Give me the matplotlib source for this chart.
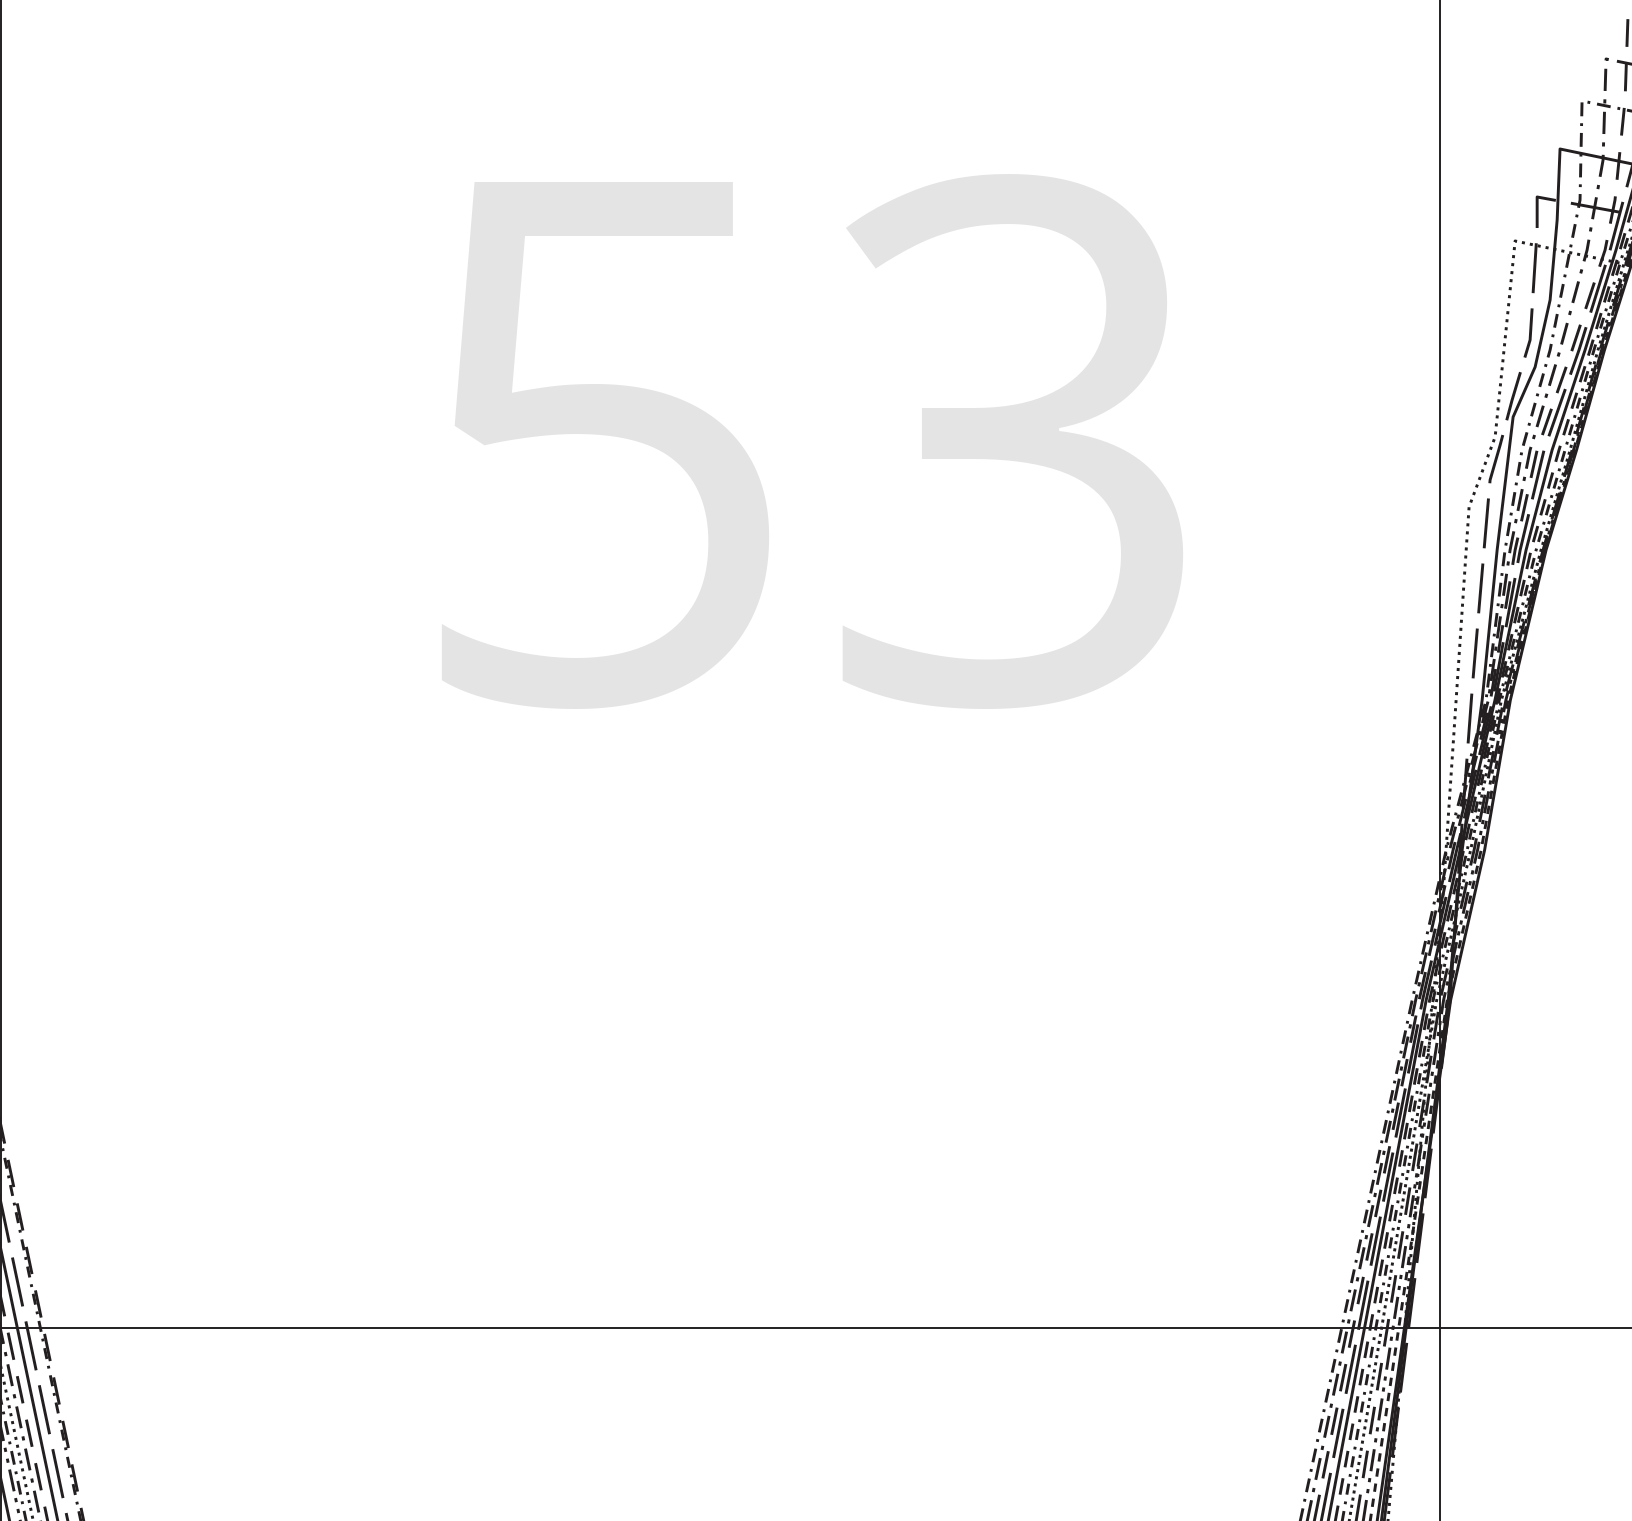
import matplotlib
matplotlib.use("Agg")
import matplotlib.pyplot as plt

plt.rcParams['lines.scale_dashes'] = False

# series values (x, y); the left parts drop into the panel from the previous column
x_x = [-1, 0.29, 8.910, 9.806, 10.042, 10.319, 10.451, 10.569, 10.764, 10.903, 10.972, 10.986, 11.806]
x_y = [6.14, -2.72, -2.72, 3.28, 4.78, 6.28, 7.78, 8.78, 9.78, 10.78, 11.28, 12.27, 12.03]

y_x = [-1, 0.39, 8.962, 9.830, 10.066, 10.335, 10.486, 10.625, 10.833, 11.021, 11.132, 11.153, 11.806]
y_y = [6.84, -2.72, -2.72, 3.28, 4.78, 6.28, 7.78, 8.78, 9.78, 10.78, 11.68, 12.69, 12.50]

z_x = [-1, 0.69, 9.015, 9.854, 10.090, 10.350, 10.521, 10.674, 10.917, 11.146, 11.215, 11.285, 11.306, 11.806]
z_y = [8.89, -2.72, -2.72, 3.28, 4.78, 6.28, 7.78, 8.78, 9.78, 10.78, 11.28, 12.28, 13.15, 13.0]

b_x = [-1, 0.51, 9.521, 10.056, 10.153, 10.292, 10.396, 10.507, 10.660, 10.764, 10.813, 10.833, 11.806]
b_y = [7.64, -2.72, -2.72, 3.28, 4.78, 6.28, 7.78, 9.11, 9.61, 10.28, 11.08, 11.79, 11.50]

l_x = [-1, 0.58, 9.542, 10.069, 10.139, 10.222, 10.299, 10.347, 10.417, 10.5, 10.625, 10.674, 10.674, 11.806]
l_y = [8.09, -2.72, -2.72, 3.28, 4.78, 6.38, 7.68, 8.48, 8.83, 9.28, 9.88, 10.98, 11.31, 11.01]

d_x = [-1, 0.34, 9.590, 9.951, 10.021, 10.201, 10.382, 10.521, 11.806]
d_y = [6.44, -2.72, -2.72, 3.28, 4.35, 8.21, 8.91, 10.87, 10.48]

# the bundle that leaves through the right edge
e_y = [-2.72, 3.28, 4.78, 6.28, 7.78, 8.78, 9.78, 10.78, 12.28]
e1_x = [9.067, 9.878, 10.115, 10.365, 10.556, 10.722, 10.965, 11.181, 11.458]
e2_x = [9.119, 9.903, 10.139, 10.381, 10.597, 10.778, 11.007, 11.222, 11.514]
e3_x = [9.172, 9.927, 10.163, 10.396, 10.632, 10.826, 11.042, 11.25, 11.556]
e4_x = [9.224, 9.951, 10.188, 10.411, 10.667, 10.868, 11.069, 11.278, 11.597]
e5_x = [9.276, 9.976, 10.212, 10.426, 10.701, 10.903, 11.097, 11.306, 11.639]
e6_x = [9.328, 10.0, 10.236, 10.442, 10.715, 10.917, 11.111, 11.319, 11.681]
e7_x = [9.381, 10.024, 10.260, 10.457, 10.722, 10.927, 11.122, 11.333, 11.722]
e8_x = [9.433, 10.049, 10.285, 10.472, 10.729, 10.938, 11.132, 11.347, 11.764]
e9_x = [9.485, 10.073, 10.309, 10.488, 10.736, 10.948, 11.142, 11.361, 11.806]

# left parts (entering from the previous column) for some of the bundle lines
e2_left_x, e2_left_y = [-1, 0.175], [5.34, -2.72]
e4_left_x, e4_left_y = [-1, 0.67], [8.74, -2.72]
e6_left_x, e6_left_y = [-1, 0.44], [7.14, -2.72]
e7_left_x, e7_left_y = [-1, 0.25], [5.84, -2.72]

series = [
    (x_x, x_y, (0, (10, 5, 2, 5))),
    (y_x, y_y, (0, (16, 6, 3, 6))),
    (z_x, z_y, (0, (20, 12))),
    (b_x, b_y, '-'),
    (l_x, l_y, (0, (36, 11))),
    (d_x, d_y, (0, (2.2, 3.6))),
    (e1_x, e_y, (0, (36, 11))),
    (e2_left_x + e2_x, e2_left_y + e_y, '-'),
    (e3_x, e_y, (0, (12, 8))),
    (e4_left_x + e4_x, e4_left_y + e_y, (0, (8, 5, 2, 5))),
    (e5_x, e_y, (0, (2.2, 3))),
    (e6_left_x + e6_x, e6_left_y + e_y, (0, (20, 12))),
    (e7_left_x + e7_x, e7_left_y + e_y, (0, (16, 5, 3, 5, 3, 5))),
    (e8_x, e_y, (0, (6, 5))),
    (e9_x, e_y, '-'),
]

ink = '#231f20'

fig = plt.figure(figsize=(16.32, 15.21), dpi=100)
ax = fig.add_axes([0, 0, 1, 1])
ax.set_xlim(-0.007, 11.333)
ax.set_ylim(-1.93, 13.28)
ax.axis('off')

ax.text(0.4963, 0.5385, '53', transform=ax.transAxes, ha='center', va='baseline',
        fontsize=524, family='Open Sans', color='#e4e4e4', zorder=0)

ax.axvline(0, color=ink, lw=1.4, zorder=1)
ax.axvline(10, color=ink, lw=1.4, zorder=1)
ax.axhline(0, color=ink, lw=1.4, zorder=1)

for xs, ys, ls in series:
    ax.plot(xs, ys, color=ink, lw=2.1, linestyle=ls, zorder=2)

fig.savefig('out.png', dpi=100)
